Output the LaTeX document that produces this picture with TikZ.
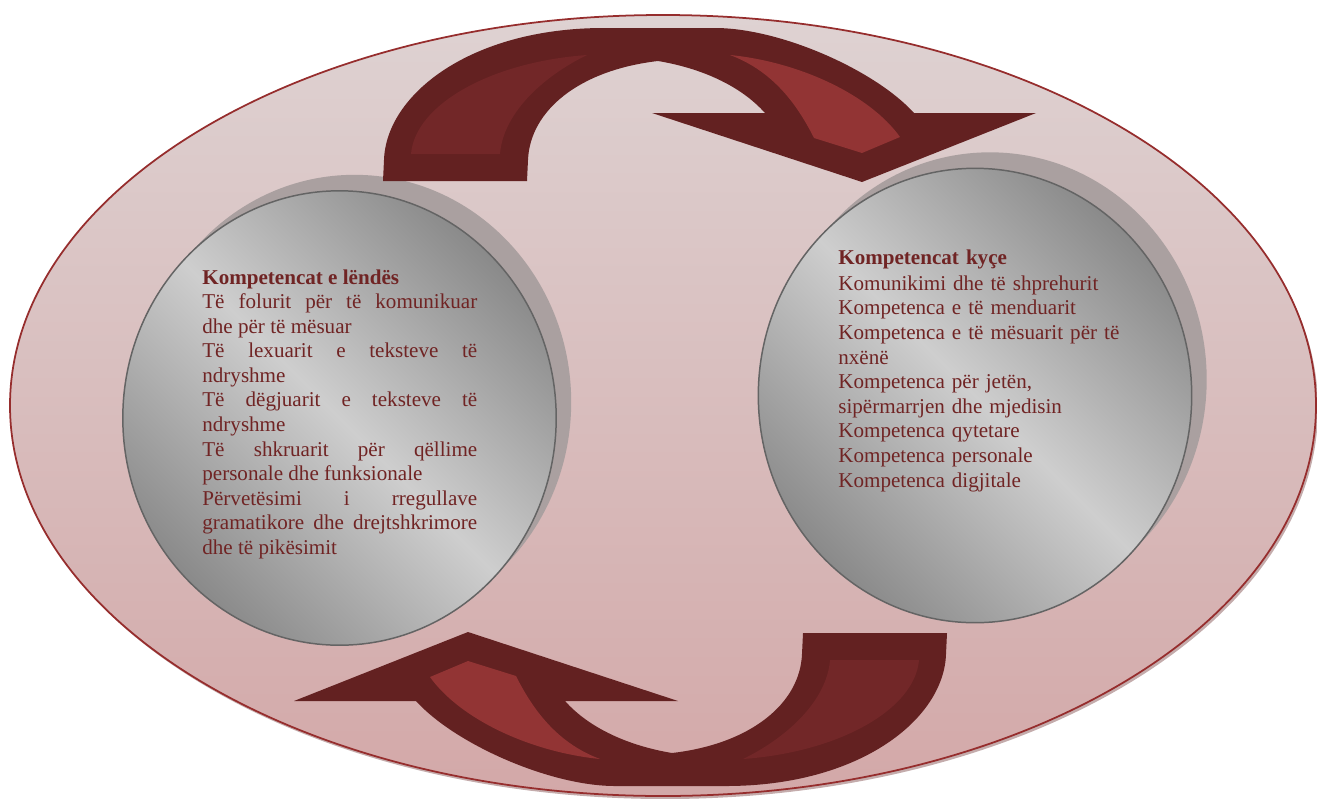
\documentclass[tikz,border=0pt]{standalone}
\usepackage{fontspec}
\setmainfont{Liberation Serif}
\usetikzlibrary{shapes.geometric,shadows}

\definecolor{rimred}{RGB}{150,45,45}
\definecolor{rimshade}{RGB}{196,172,172}
\definecolor{backtop}{RGB}{222,210,210}
\definecolor{backbottom}{RGB}{211,168,168}
\definecolor{arrowdark}{RGB}{99,33,33}
\definecolor{arrowmid}{RGB}{114,39,40}
\definecolor{arrowlight}{RGB}{146,52,52}
\definecolor{circdark}{RGB}{138,138,138}
\definecolor{circlight}{RGB}{206,206,206}
\definecolor{circrim}{RGB}{100,100,100}
\definecolor{shadowgray}{RGB}{170,160,160}
\definecolor{textred}{RGB}{112,36,36}

\tikzset{
  bubble/.style={ellipse, draw=circrim, line width=0.85pt,
    minimum width=8.67cm, minimum height=9.09cm,
    shading=axis, top color=circdark, bottom color=circdark,
    middle color=circlight, shading angle=-45,
    drop shadow={shadow xshift=0.3cm, shadow yshift=0.32cm,
      fill=shadowgray, opacity=1}},
  blurb/.style={text=textred, text width=5.5cm, inner sep=0pt,
    font=\fontsize{12}{14}\selectfont},
  bandbody/.style={fill=arrowdark},
  bandleg/.style={fill=arrowmid},
  bandhead/.style={fill=arrowlight},
}

\newcommand\turnarrow{%
  \fill[bandbody] (383,181) -- (384,160) .. controls (386,95) and (470,28) .. (604,28)
    -- (715,28) .. controls (780,28) and (875,70) .. (914,113)
    -- (1036,113) -- (862,182) -- (652,113) -- (765,113)
    .. controls (740,85) and (700,68) .. (658,61)
    .. controls (580,70) and (530,110) .. (528,160) -- (527,181) -- cycle;
  \fill[bandleg] (411,154) -- (500,154) .. controls (503,115) and (540,78) .. (587,55)
    .. controls (490,62) and (415,105) .. (411,154) -- cycle;
  \fill[bandhead] (730,55) .. controls (800,62) and (870,95) .. (900,137)
    -- (862,153) -- (814,138) .. controls (795,100) and (770,70) .. (730,55) -- cycle;
}

\begin{document}
\begin{tikzpicture}[x=0.02cm,y=-0.02cm]

  \useasboundingbox (0,0) rectangle (1317,798);

  \fill[rimshade] (665,408.5) ellipse [x radius=653, y radius=390.5];
  \draw[rimred, line width=1pt, top color=backtop, bottom color=backbottom]
    (663,405.5) ellipse [x radius=653, y radius=390.5];

  \node[bubble] (subjcirc) at (339.5,418) {};
  \node[bubble] (keycirc) at (975,395.5) {};

  \turnarrow
  \begin{scope}[rotate around={180:(665,407)}]
    \turnarrow
  \end{scope}

  \node[blurb, align=justify, anchor=base west] (subjtext) at (202,284) {%
    \textbf{Kompetencat e lëndës}\\
    Të folurit për të komunikuar\linebreak dhe për të mësuar\\
    Të lexuarit e teksteve të\linebreak ndryshme\\
    Të dëgjuarit e teksteve të\linebreak ndryshme\\
    Të shkruarit për qëllime\linebreak personale dhe funksionale\\
    Përvetësimi i rregullave\linebreak gramatikore dhe drejtshkrimore\linebreak dhe të pikësimit};

  \node[blurb, align=left, text width=6.4cm, anchor=base west] (keytext) at (838,264) {%
    \textbf{Kompetencat kyçe}\\[1pt]
    Komunikimi dhe të shprehurit\\
    Kompetenca e të menduarit\\
    Kompetenca e të mësuarit për të\\
    nxënë\\
    Kompetenca për jetën,\\
    sipërmarrjen dhe mjedisin\\
    Kompetenca qytetare\\
    Kompetenca personale\\
    Kompetenca digjitale};

\end{tikzpicture}
\end{document}
